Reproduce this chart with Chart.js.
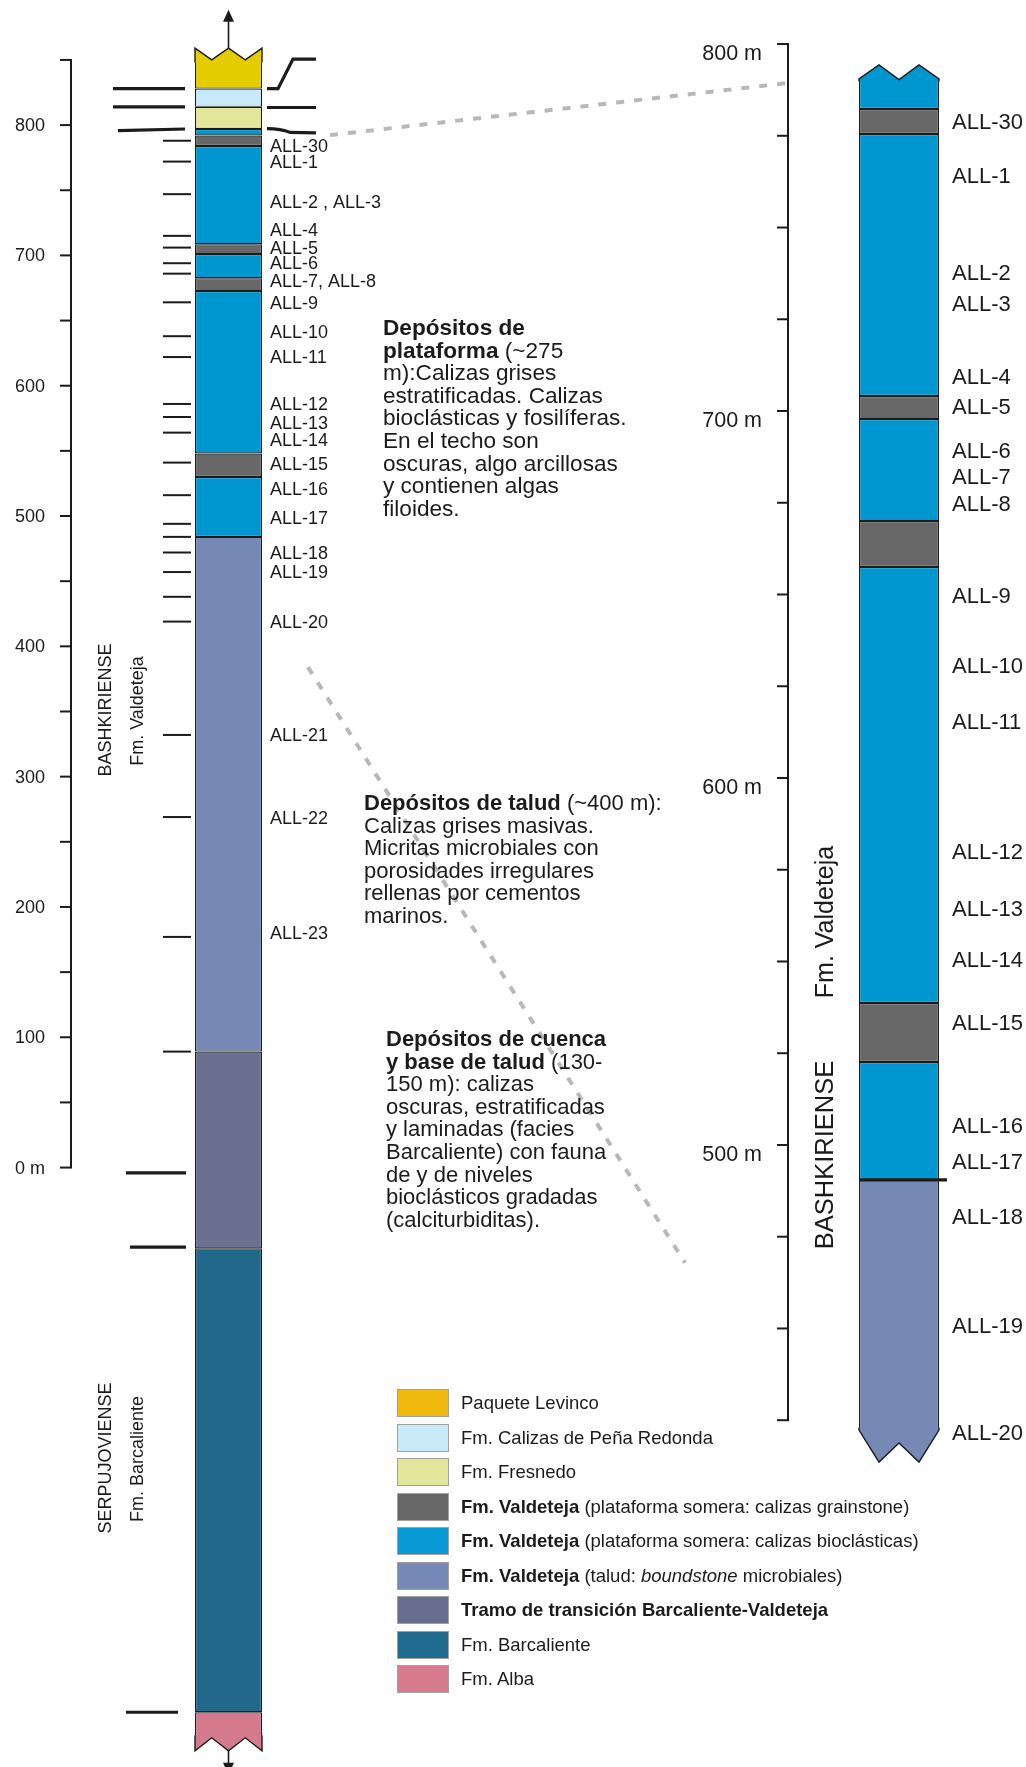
<!DOCTYPE html>
<html>
<head>
<meta charset="utf-8">
<script src="https://cdn.jsdelivr.net/npm/chart.js@4.4.1/dist/chart.umd.min.js"></script>
<style>
  html, body { margin: 0; padding: 0; background: #fff; overflow: hidden; }
  #wrap { position: relative; width: 1026px; height: 1767px; font-family: "Liberation Sans", Arial, sans-serif; color: #1b1b1b; }
  #chart { position: absolute; left: 0; top: 0; }
  .note { position: absolute; font-size: 22px; line-height: 22.6px; white-space: nowrap; }
  #legend { position: absolute; left: 397px; top: 1389px; font-size: 18.5px; }
  .row { height: 34.5px; display: flex; align-items: flex-start; white-space: nowrap; }
  .sw { width: 50px; height: 26px; border: 1px solid #a0a0a0; margin-right: 12px; flex: none; }
  .row span { line-height: 28px; }
</style>
</head>
<body>
<div id="wrap">
  <canvas id="chart" width="1026" height="1767"></canvas>

  <div class="note" style="left:383px;top:317px;font-size:22.6px">
    <b>Depósitos de</b><br><b>plataforma</b> (~275<br>m):Calizas grises<br>estratificadas. Calizas<br>bioclásticas y fosilíferas.<br>En el techo son<br>oscuras, algo arcillosas<br>y contienen algas<br>filoides.
  </div>
  <div class="note" style="left:364px;top:792px">
    <b>Depósitos de talud</b> (~400 m):<br>Calizas grises masivas.<br>Micritas microbiales con<br>porosidades irregulares<br>rellenas por cementos<br>marinos.
  </div>
  <div class="note" style="left:386px;top:1028px">
    <b>Depósitos de cuenca</b><br><b>y base de talud</b> (130-<br>150 m): calizas<br>oscuras, estratificadas<br>y laminadas (facies<br>Barcaliente) con fauna<br>de y de niveles<br>bioclásticos gradadas<br>(calciturbiditas).
  </div>

  <div id="legend"></div>
</div>

<script>
// Facies, same order as the legend
const faciesNames = [
  'Paquete Levinco',
  'Fm. Calizas de Peña Redonda',
  'Fm. Fresnedo',
  '<b>Fm. Valdeteja</b> (plataforma somera: calizas grainstone)',
  '<b>Fm. Valdeteja</b> (plataforma somera: calizas bioclásticas)',
  '<b>Fm. Valdeteja</b> (talud: <i>boundstone</i> microbiales)',
  '<b>Tramo de transición Barcaliente-Valdeteja</b>',
  'Fm. Barcaliente',
  'Fm. Alba',
];

// Full section (left column), metres
const leftBase   = [-437.6, -418, -62, 89, 484, 530, 548, 672.6, 682.5, 701, 708.6, 784, 792, 797, 814, 828];
const leftTop    = [-418, -62, 89, 484, 530, 548, 672.6, 682.5, 701, 708.6, 784, 792, 797, 814, 828, 850];
const leftFacies = [8, 7, 6, 5, 4, 3, 4, 3, 4, 3, 4, 3, 4, 2, 1, 0];

// Detail of the upper part (right column), metres
const rightBase   = [422.3, 490.5, 522.6, 538.7, 657.5, 670, 697.8, 704.1, 775.5, 782.3];
const rightTop    = [490.5, 522.6, 538.7, 657.5, 670, 697.8, 704.1, 775.5, 782.3, 790.5];
const rightFacies = [5, 4, 3, 4, 3, 4, 3, 4, 3, 4];

// broken ends of the columns (corner, quarter, middle, quarter, corner)
const leftTopZig     = [859, 850, 859, 850, 859];
const leftBottomZig  = [-447.6, -437.6, -447.6, -437.6, -447.6];
const rightTopZig    = [790.5, 794.3, 790.3, 794.3, 790.5];
const rightBottomZig = [422.3, 413.6, 418.8, 413.6, 422.3];

// samples
const leftSampleDepths = [788, 772, 747, 715, 706, 694, 686, 664, 638, 622, 586, 576, 564, 541, 516, 494, 484, 472, 457, 438, 419, 332, 269, 177, 89];
const leftSampleNames = ['ALL-30', 'ALL-1', 'ALL-2 , ALL-3', 'ALL-4', 'ALL-5', 'ALL-6', 'ALL-7, ALL-8', 'ALL-9', 'ALL-10', 'ALL-11',
  'ALL-12', 'ALL-13', 'ALL-14', 'ALL-15', 'ALL-16', 'ALL-17', 'ALL-18', 'ALL-19', 'ALL-20', 'ALL-21', 'ALL-22', 'ALL-23'];
const leftSampleLabelAt = [784, 771.6, 741, 719.4, 705.6, 694.1, 680.5, 663.3, 641.1, 621.9,
  585.8, 571.2, 558.2, 539.7, 520.5, 498.3, 471.4, 456.8, 418.4, 331.7, 268, 179.7];

const rightSampleNames = ['ALL-30', 'ALL-1', 'ALL-2', 'ALL-3', 'ALL-4', 'ALL-5', 'ALL-6', 'ALL-7', 'ALL-8', 'ALL-9', 'ALL-10',
  'ALL-11', 'ALL-12', 'ALL-13', 'ALL-14', 'ALL-15', 'ALL-16', 'ALL-17', 'ALL-18', 'ALL-19', 'ALL-20'];
const rightSampleAt = [778.7, 764, 737.6, 729.2, 709.3, 701.1, 689.1, 682, 674.7, 649.6, 630.5,
  615.3, 579.8, 564.3, 550.4, 533.2, 505.2, 495.4, 480.4, 450.7, 421.5];

// axes
const leftAxisTicks = [0, 50, 100, 150, 200, 250, 300, 350, 400, 450, 500, 550, 600, 650, 700, 750, 800, 850];
const leftAxisLabelAt = [0, 100, 200, 300, 400, 500, 600, 700, 800];
const leftAxisLabels = ['0 m', '100', '200', '300', '400', '500', '600', '700', '800'];
const rightAxisTicks = [425, 450, 475, 500, 525, 550, 575, 600, 625, 650, 675, 700, 725, 750, 775, 800];
const rightAxisLabelAt = [500, 600, 700, 800];
const rightAxisLabels = ['500 m', '600 m', '700 m', '800 m'];

// formation contacts drawn beside the left column
const leftContacts = [828, 814, 797, -4, -61, -418];

// --- styles
const faciesFill = ['#e3cd00', '#c7e9f8', '#e2e79b', '#676767', '#0096d0', '#7689b4', '#6a7190', '#21688b', '#d47a8c'];
const legendFill = ['#f0b90d', '#c7e9f8', '#e2e79b', '#676767', '#0899d4', '#7588b6', '#676e8d', '#206b8e', '#d77b8e'];
const FONT = '"Liberation Sans", Arial, sans-serif';
const INK = '#1b1b1b';
const LEFT_X = [195, 262];
const RIGHT_X = [859, 939];
const contactSpan = [[113, 185], [113, 185], [118, 185], [126, 186], [130, 186], [126, 178]];

document.getElementById('legend').innerHTML = faciesNames.map((name, i) =>
  `<div class="row"><div class="sw" style="background:${legendFill[i]}"></div><span>${name}</span></div>`
).join('');

function zigzag(ctx, x0, x1, baseY, ys, fill, top) {
  const xs = [x0, x0 + (x1 - x0) / 4, (x0 + x1) / 2, x0 + 3 * (x1 - x0) / 4, x1];
  const cover = baseY + (top ? 2.5 : -2.5);
  const path = () => {
    ctx.beginPath();
    ctx.moveTo(x0, cover);
    xs.forEach((x, i) => ctx.lineTo(x, ys[i]));
    ctx.lineTo(x1, cover);
  };
  path();
  ctx.closePath();
  ctx.fillStyle = fill;
  ctx.fill();
  path();
  ctx.lineWidth = 1.4;
  ctx.strokeStyle = INK;
  ctx.stroke();
}

function arrow(ctx, x, y0, y1) {
  const d = Math.sign(y1 - y0);
  ctx.beginPath();
  ctx.moveTo(x, y0);
  ctx.lineTo(x, y1 - d * 10);
  ctx.lineWidth = 1.6;
  ctx.strokeStyle = INK;
  ctx.stroke();
  ctx.beginPath();
  ctx.moveTo(x, y1);
  ctx.lineTo(x - 5.5, y1 - d * 12);
  ctx.lineTo(x + 5.5, y1 - d * 12);
  ctx.closePath();
  ctx.fillStyle = INK;
  ctx.fill();
}

function line(ctx, pts, w) {
  ctx.beginPath();
  ctx.moveTo(pts[0][0], pts[0][1]);
  pts.slice(1).forEach(p => ctx.lineTo(p[0], p[1]));
  ctx.lineWidth = w;
  ctx.stroke();
}

function vtext(ctx, text, x, y, size) {
  ctx.save();
  ctx.translate(x, y);
  ctx.rotate(-Math.PI / 2);
  ctx.font = `${size}px ${FONT}`;
  ctx.textAlign = 'center';
  ctx.textBaseline = 'middle';
  ctx.fillText(text, 0, 0);
  ctx.restore();
}

const sectionPlugin = {
  id: 'section',
  beforeDatasetsDraw(chart) {
    const ctx = chart.ctx;
    const X = v => chart.scales.x.getPixelForValue(v);
    const L = v => chart.scales.yL.getPixelForValue(v);
    const R = v => chart.scales.yR.getPixelForValue(v);
    // correlation lines
    ctx.save();
    ctx.strokeStyle = '#b8b8b8';
    ctx.setLineDash([8, 10]);
    line(ctx, [[X(330), L(792.3)], [X(795), R(789.6)]], 4);
    line(ctx, [[X(308), L(384)], [X(685), L(-73)]], 4);
    ctx.restore();
  },
  afterDatasetsDraw(chart) {
    const ctx = chart.ctx;
    const X = v => chart.scales.x.getPixelForValue(v);
    const L = v => chart.scales.yL.getPixelForValue(v);
    const R = v => chart.scales.yR.getPixelForValue(v);
    ctx.save();

    // broken ends and arrows
    zigzag(ctx, X(LEFT_X[0]), X(LEFT_X[1]), L(leftTop[leftTop.length - 1]), leftTopZig.map(L), faciesFill[0], true);
    zigzag(ctx, X(LEFT_X[0]), X(LEFT_X[1]), L(leftBase[0]), leftBottomZig.map(L), faciesFill[8], false);
    zigzag(ctx, X(RIGHT_X[0]), X(RIGHT_X[1]), R(rightTop[rightTop.length - 1]), rightTopZig.map(R), faciesFill[4], true);
    zigzag(ctx, X(RIGHT_X[0]), X(RIGHT_X[1]), R(rightBase[0]), rightBottomZig.map(R), faciesFill[5], false);
    const cx = X((LEFT_X[0] + LEFT_X[1]) / 2);
    arrow(ctx, cx, L(leftTopZig[2]), L(888.5));
    arrow(ctx, cx, L(leftBottomZig[2]), L(-466));

    ctx.strokeStyle = INK;
    ctx.fillStyle = INK;
    ctx.lineCap = 'butt';

    // contacts left of the column
    leftContacts.forEach((v, i) => {
      const [a, b] = contactSpan[i];
      const tilt = i === 2 ? 1.2 : 0;
      line(ctx, [[X(a), L(v - tilt)], [X(b), L(v)]], 3.2);
    });
    // contacts right of the column
    line(ctx, [[X(267), L(828)], [X(278), L(828)], [X(293), L(850.7)], [X(316), L(850.7)]], 3.2);
    line(ctx, [[X(267), L(813.5)], [X(316), L(813.5)]], 3.2);
    ctx.beginPath();
    ctx.moveTo(X(267), L(797.3));
    ctx.quadraticCurveTo(X(281), L(797.3), X(290), L(794.4));
    ctx.lineTo(X(316), L(794));
    ctx.lineWidth = 3.2;
    ctx.stroke();
    // base of the platform in the detail column
    line(ctx, [[X(RIGHT_X[0]), R(rightBase[1])], [X(947), R(rightBase[1])]], 3.2);

    // left depth scale
    line(ctx, [[X(71), L(850)], [X(71), L(0)]], 2);
    leftAxisTicks.forEach(v => line(ctx, [[X(60), L(v)], [X(72), L(v)]], 2));
    ctx.font = `18px ${FONT}`;
    ctx.textAlign = 'right';
    ctx.textBaseline = 'middle';
    leftAxisLabelAt.forEach((v, i) => ctx.fillText(leftAxisLabels[i], X(45), L(v) + 1));

    // right depth scale
    line(ctx, [[X(788), R(800)], [X(788), R(425)]], 2);
    rightAxisTicks.forEach(v => line(ctx, [[X(777), R(v)], [X(789), R(v)]], 2));
    ctx.font = `21.5px ${FONT}`;
    rightAxisLabelAt.forEach((v, i) => ctx.fillText(rightAxisLabels[i], X(762), R(v) + 10));

    // samples
    leftSampleDepths.forEach(v => line(ctx, [[X(163), L(v)], [X(191), L(v)]], 2));
    ctx.textAlign = 'left';
    ctx.font = `18px ${FONT}`;
    leftSampleNames.forEach((s, i) => ctx.fillText(s, X(270), L(leftSampleLabelAt[i]) + 1));
    ctx.font = `22px ${FONT}`;
    rightSampleNames.forEach((s, i) => ctx.fillText(s, X(952), R(rightSampleAt[i]) + 1));

    // stage / formation names
    vtext(ctx, 'BASHKIRIENSE', X(106), 710, 18);
    vtext(ctx, 'Fm. Valdeteja', X(138), 711, 18);
    vtext(ctx, 'SERPUJOVIENSE', X(106), 1458, 18);
    vtext(ctx, 'Fm. Barcaliente', X(138), 1459, 18);
    vtext(ctx, 'Fm. Valdeteja', X(826), 922, 25);
    vtext(ctx, 'BASHKIRIENSE', X(826), 1155, 25.5);

    ctx.restore();
  },
};

new Chart(document.getElementById('chart'), {
  type: 'bar',
  data: {
    datasets: [
      {
        label: 'Columna general',
        yAxisID: 'yL',
        data: leftBase.map((b, i) => ({ x: (LEFT_X[0] + LEFT_X[1]) / 2, y: [b, leftTop[i]] })),
        backgroundColor: leftFacies.map(f => faciesFill[f]),
        maxBarThickness: LEFT_X[1] - LEFT_X[0],
      },
      {
        label: 'Detalle',
        yAxisID: 'yR',
        data: rightBase.map((b, i) => ({ x: (RIGHT_X[0] + RIGHT_X[1]) / 2, y: [b, rightTop[i]] })),
        backgroundColor: rightFacies.map(f => faciesFill[f]),
        maxBarThickness: RIGHT_X[1] - RIGHT_X[0],
      },
    ],
  },
  options: {
    responsive: false,
    devicePixelRatio: 1,
    animation: false,
    events: [],
    layout: { padding: 0 },
    datasets: {
      bar: {
        grouped: false,
        borderColor: INK,
        borderWidth: 1.2,
        borderSkipped: false,
        inflateAmount: 0,
      },
    },
    scales: {
      x: { type: 'linear', min: 0, max: 1026, offset: false, display: false, bounds: 'data' },
      yL: { type: 'linear', min: -460, max: 896, display: false, beginAtZero: false, bounds: 'data' },
      yR: { type: 'linear', min: 330.5, max: 812, display: false, beginAtZero: false, bounds: 'data', position: 'right' },
    },
    plugins: {
      legend: { display: false },
      tooltip: { enabled: false },
    },
  },
  plugins: [sectionPlugin],
});
</script>
</body>
</html>
